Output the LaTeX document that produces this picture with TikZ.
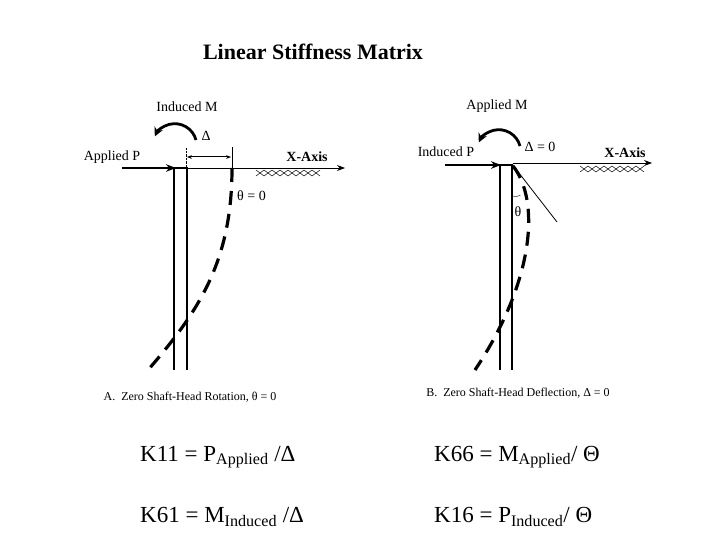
\documentclass[tikz,border=0pt]{standalone}
\usepackage{fontspec}
\setmainfont{Liberation Serif}
\usetikzlibrary{arrows.meta}
\begin{document}
\begin{tikzpicture}[x=1pt,y=-1pt,
 lbl/.style={inner sep=0pt,font=\fontsize{14}{16}\selectfont},
 ax/.style={-{Stealth[length=8pt]},line width=0.8pt},
 force/.style={-{Stealth[length=10pt]},line width=2.6pt},
 defl/.style={line width=3.2pt,dash pattern=on 14pt off 9pt},
 pile/.style={draw,line width=2.6pt},
 mom/.style={-{Stealth[length=9pt,width=9pt]},line width=2.8pt},
 frm/.style={inner sep=0pt,anchor=west,font=\fontsize{23}{27}\selectfont}]
\useasboundingbox (0,0) rectangle (720,540);
\node[inner sep=0pt,font=\bfseries\fontsize{22}{26}\selectfont] (title) at (313,52) {Linear Stiffness Matrix};
% Left
\coordinate (la0) at (182,168); \coordinate (la1) at (345,168);
\draw[ax] (la0) -- (la1);
\draw[force] (122,168) -- (176,168);
\draw[pile] (174,370) -- (174,168) -- (187,168) -- (187,370);
\foreach \i in {0,...,7} {\draw[line width=0.5pt] (256+8*\i,170) -- (264+8*\i,176) (256+8*\i,176) -- (264+8*\i,170);}
\node[lbl] (lapp) at (112,157) {Applied P};
\node[lbl,font=\bfseries\fontsize{14}{16}\selectfont] (lx) at (307,157) {X-Axis};
\node[lbl] (lind) at (187,107) {Induced M};
\node[lbl] (ld) at (206,136) {Δ};
\draw[mom] (196,140) arc[start angle=-15,end angle=-155,radius=22];
\draw[densely dotted] (186,148) -- (186,168);
\draw (232,147) -- (232,168);
\draw[{Stealth[length=5pt]}-{Stealth[length=5pt]},line width=1pt] (187,157) -- (231,157);
\draw[defl] (232,168) .. controls (232,260) and (200,310) .. (148,370);
\node[lbl,anchor=west] (lt) at (237,196) {θ = 0};
\node[lbl] (capa) at (190,397) {\fontsize{12}{14}\selectfont A.\ \ Zero Shaft-Head Rotation, θ = 0};
% Right
\draw[ax] (513,163) -- (652,163);
\draw[force] (445,165) -- (501,165);
\draw[pile] (500,370) -- (500,165) -- (512,165) -- (512,370);
\foreach \i in {0,...,7} {\draw[line width=0.5pt] (580+8*\i,166) -- (588+8*\i,172) (580+8*\i,172) -- (588+8*\i,166);}
\node[lbl] (rind) at (446,152) {Induced P};
\node[lbl,font=\bfseries\fontsize{14}{16}\selectfont] (rx) at (625,153) {X-Axis};
\node[lbl] (rapp) at (497,106) {Applied M};
\node[lbl] (rd) at (540,147) {Δ = 0};
\draw[mom] (520,146) arc[start angle=-15,end angle=-155,radius=22];
\draw[line width=0.8pt] (512,164) -- (557,222);
\draw[defl] (513,166) .. controls (540,200) and (535,280) .. (475,370);
\draw (512,196) arc[start angle=110,end angle=60,radius=10];
\node[lbl] (rt) at (518,212) {θ};
\node[lbl] (capb) at (518,393) {\fontsize{12}{14}\selectfont B.\ \ Zero Shaft-Head Deflection, Δ = 0};
% Formulas
\node[frm] (k11) at (140,457) {K11 = P\textsubscript{Applied} /Δ};
\node[frm] (k61) at (140,517) {K61 = M\textsubscript{Induced} /Δ};
\node[frm] (k66) at (434,457) {K66 = M\textsubscript{Applied}/ Θ};
\node[frm] (k16) at (434,517) {K16 = P\textsubscript{Induced}/ Θ};
\end{tikzpicture}
\end{document}
